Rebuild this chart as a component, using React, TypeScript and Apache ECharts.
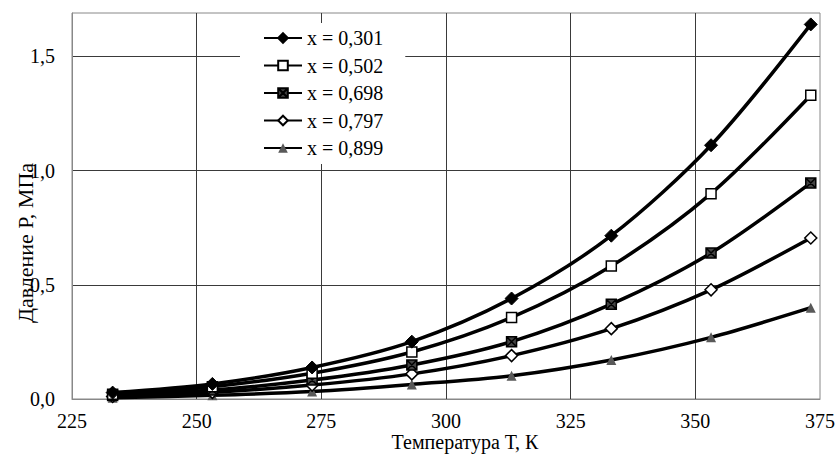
import React, { useEffect, useRef } from "react";
import * as echarts from "echarts";

const temperatures = [233.15, 253.15, 273.15, 293.15, 313.15, 333.15, 353.15, 373.15];
const seriesNames = ["x = 0,301", "x = 0,502", "x = 0,698", "x = 0,797", "x = 0,899"];
const p0301 = [0.028, 0.066, 0.138, 0.251, 0.44, 0.715, 1.111, 1.64];
const p0502 = [0.021, 0.054, 0.113, 0.206, 0.357, 0.582, 0.899, 1.33];
const p0698 = [0.015, 0.039, 0.083, 0.149, 0.251, 0.415, 0.639, 0.946];
const p0797 = [0.011, 0.029, 0.061, 0.11, 0.19, 0.308, 0.478, 0.705];
const p0899 = [0.006, 0.016, 0.033, 0.064, 0.102, 0.171, 0.27, 0.4];
const xTitle = "Температура Т, К";
const yTitle = "Давление Р, МПа";

const FONT = "'Liberation Serif', 'Times New Roman', serif";
const X_SQUARE = "path://M0,0L10,0L10,10L0,10Z M0,0L10,10 M10,0L0,10";

export default function App() {
  const ref = useRef<HTMLDivElement>(null);
  useEffect(() => {
    if (!ref.current) return;
    document.body.style.margin = "0";
    const chart = echarts.init(ref.current, null, { renderer: "svg" });
    const values = [p0301, p0502, p0698, p0797, p0899];
    const symbols = ["diamond", "rect", X_SQUARE, "diamond", "triangle"];
    const sizes = [13, 10, 10, 12, 10];
    const itemStyles = [
      { color: "#000", borderColor: "#000", borderWidth: 1 },
      { color: "#fff", borderColor: "#000", borderWidth: 1.5 },
      { color: "#444", borderColor: "#000", borderWidth: 1.5 },
      { color: "#fff", borderColor: "#000", borderWidth: 1.5 },
      { color: "#595959", borderColor: "#595959", borderWidth: 0 },
    ];
    const series = values.map((vals, i) => ({
      name: seriesNames[i],
      type: "line",
      smooth: 0.3,
      data: temperatures.map((t, j) => [t, vals[j]]),
      symbol: symbols[i],
      symbolSize: sizes[i],
      showSymbol: true,
      lineStyle: { color: "#000", width: 3.5 },
      itemStyle: itemStyles[i],
      z: 3 + (4 - i),
    }));
    chart.setOption({
      animation: false,
      backgroundColor: "#fff",
      textStyle: { fontFamily: FONT },
      grid: {
        left: 72,
        right: 15,
        top: 13,
        bottom: 55,
        show: true,
        borderColor: "#888",
        borderWidth: 1,
        backgroundColor: "transparent",
      },
      legend: {
        orient: "vertical",
        left: 240,
        top: 23,
        padding: [5, 22, 6, 23],
        backgroundColor: "#fff",
        itemWidth: 38,
        itemHeight: 12,
        itemGap: 7.5,
        textStyle: { fontFamily: FONT, fontSize: 20, color: "#000" },
        data: seriesNames,
      },
      xAxis: {
        type: "value",
        min: 225,
        max: 375,
        interval: 25,
        axisLine: { show: true, lineStyle: { color: "#888", width: 1 } },
        axisTick: { show: false },
        axisLabel: { fontFamily: FONT, fontSize: 20, color: "#000", margin: 12 },
        splitLine: {
          show: true,
          showMinLine: false,
          showMaxLine: false,
          lineStyle: { color: "#3a3a3a", width: 1 },
        },
      },
      yAxis: {
        type: "value",
        min: 0,
        max: 1.69,
        interval: 0.5,
        axisLine: { show: true, lineStyle: { color: "#888", width: 1 } },
        axisTick: { show: false },
        axisLabel: {
          fontFamily: FONT,
          fontSize: 20,
          color: "#000",
          margin: 17,
          formatter: (v: number) => {
            const r = Math.round(v / 0.5) * 0.5;
            if (Math.abs(r - v) > 1e-6) return "";
            return r.toFixed(1).replace(".", ",");
          },
        },
        splitLine: {
          show: true,
          showMinLine: false,
          showMaxLine: false,
          lineStyle: { color: "#3a3a3a", width: 1 },
        },
      },
      graphic: [
        {
          type: "text",
          x: 465,
          y: 442,
          style: {
            text: xTitle,
            fontFamily: FONT,
            fontSize: 20,
            fill: "#000",
            align: "center",
            verticalAlign: "middle",
          },
        },
        {
          type: "text",
          x: 25,
          y: 243,
          rotation: Math.PI / 2,
          style: {
            text: yTitle,
            fontFamily: FONT,
            fontSize: 22,
            fill: "#000",
            align: "center",
            verticalAlign: "middle",
          },
        },
      ],
      series,
    });
    return () => chart.dispose();
  }, []);
  return (
    <div
      ref={ref}
      style={{ position: "absolute", left: 0, top: 0, width: 838, height: 454 }}
    />
  );
}
